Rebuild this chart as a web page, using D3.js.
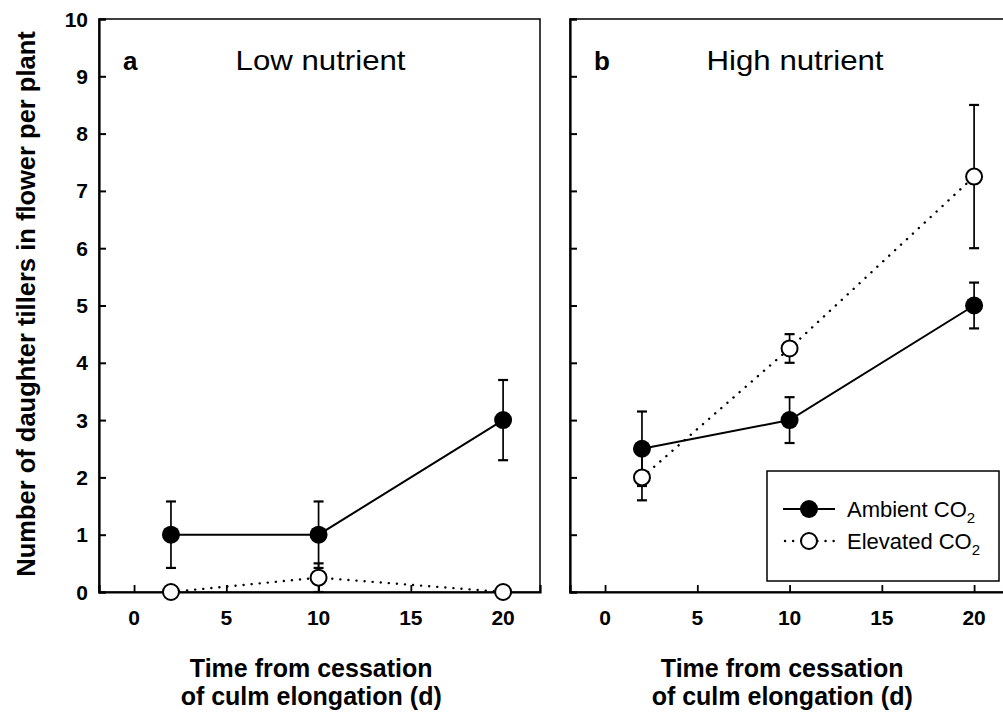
<!DOCTYPE html>
<html>
<head>
<meta charset="utf-8">
<script src="https://cdn.jsdelivr.net/npm/d3@7"></script>
<style>
  html, body { margin: 0; padding: 0; background: #fff; }
  svg { display: block; }
  text { font-family: Arial, "Liberation Sans", Helvetica, sans-serif; fill: #000; }
</style>
</head>
<body>
<svg id="chart" width="1003" height="714"></svg>
<script>
// ---- data ----
const days = [2, 10, 20];
const xTicks = [0, 5, 10, 15, 20];
const yTicks = [0, 1, 2, 3, 4, 5, 6, 7, 8, 9, 10];

const lowAmbient = [1, 1, 3];
const lowAmbientErr = [0.58, 0.58, 0.7];
const lowElevated = [0, 0.25, 0];
const lowElevatedErr = [0, 0.25, 0];

const highAmbient = [2.5, 3, 5];
const highAmbientErr = [0.65, 0.4, 0.4];
const highElevated = [2, 4.25, 7.25];
const highElevatedErr = [0.4, 0.25, 1.25];

const panelLetters = ["a", "b"];
const panelTitles = ["Low nutrient", "High nutrient"];
const yTitle = "Number of daughter tillers in flower per plant";
const xTitle = ["Time from cessation", "of culm elongation (d)"];
const seriesNames = ["Ambient CO", "Elevated CO"];

// ---- layout ----
const svg = d3.select("#chart");
const yScale = d3.scaleLinear().domain([0, 10]).range([592, 19]);
const xDomain = [-1.9, 22];
const panels = [
  { left: 99, right: 540, amb: lowAmbient, ambErr: lowAmbientErr, ele: lowElevated, eleErr: lowElevatedErr, yLabels: true, legend: false },
  { left: 570, right: 1011, amb: highAmbient, ambErr: highAmbientErr, ele: highElevated, eleErr: highElevatedErr, yLabels: false, legend: true }
];

const R = 9;
const DOTS = "0.1,8";

panels.forEach((p, i) => {
  const x = d3.scaleLinear().domain(xDomain).range([p.left, p.right]);
  const g = svg.append("g");

  // frame
  g.append("rect")
    .attr("x", p.left).attr("y", yScale(10))
    .attr("width", p.right - p.left).attr("height", yScale(0) - yScale(10))
    .attr("fill", "none").attr("stroke", "#000").attr("stroke-width", 1.5);

  // y axis (ticks inward)
  const yAxis = d3.axisRight(yScale).tickValues(yTicks).tickSize(7).tickFormat("");
  const ya = g.append("g").attr("transform", `translate(${p.left},0)`).call(yAxis);
  ya.select(".domain").attr("stroke-width", 2.2);
  ya.selectAll(".tick line").attr("stroke-width", 2);

  if (p.yLabels) {
    g.selectAll(".ylab").data(yTicks).enter().append("text")
      .attr("x", p.left - 11).attr("y", d => yScale(d) + 7.5)
      .attr("text-anchor", "end")
      .attr("font-size", 21).attr("font-weight", "bold")
      .text(d => d);
  }

  // x axis (ticks inward)
  const xAxis = d3.axisTop(x).tickValues(xTicks).tickSize(7).tickFormat("");
  const xa = g.append("g").attr("transform", `translate(0,${yScale(0)})`).call(xAxis);
  xa.select(".domain").attr("stroke-width", 2.2);
  xa.selectAll(".tick line").attr("stroke-width", 1.8);
  g.selectAll(".xlab").data(xTicks).enter().append("text")
    .attr("x", d => x(d)).attr("y", 625)
    .attr("text-anchor", "middle")
    .attr("font-size", 21).attr("font-weight", "bold")
    .text(d => d);

  // x titles
  xTitle.forEach((t, k) => {
    g.append("text")
      .attr("x", x(9.6)).attr("y", 677 + k * 28)
      .attr("text-anchor", "middle")
      .attr("font-size", 25).attr("font-weight", "bold")
      .text(t);
  });

  // panel letter + title
  g.append("text").attr("x", p.left + 24).attr("y", 70)
    .attr("font-size", 26).attr("font-weight", "bold").text(panelLetters[i]);
  g.append("text").attr("x", x(5.5)).attr("y", 70)
    .attr("font-size", 28)
    .attr("textLength", i === 0 ? 170 : 177).attr("lengthAdjust", "spacingAndGlyphs")
    .text(panelTitles[i]);

  // error bars
  const drawErr = (vals, errs) => {
    vals.forEach((v, j) => {
      const e = errs[j];
      if (!e) return;
      const cx = x(days[j]);
      g.append("line").attr("x1", cx).attr("x2", cx)
        .attr("y1", yScale(v - e)).attr("y2", yScale(v + e))
        .attr("stroke", "#000").attr("stroke-width", 1.7);
      [v - e, v + e].forEach(c => {
        g.append("line").attr("x1", cx - 5).attr("x2", cx + 5)
          .attr("y1", yScale(c)).attr("y2", yScale(c))
          .attr("stroke", "#000").attr("stroke-width", 2.2);
      });
    });
  };
  drawErr(p.amb, p.ambErr);
  drawErr(p.ele, p.eleErr);

  const line = d3.line().x((d, j) => x(days[j])).y(d => yScale(d));
  g.append("path").attr("d", line(p.ele)).attr("fill", "none")
    .attr("stroke", "#000").attr("stroke-width", 2.4)
    .attr("stroke-dasharray", DOTS).attr("stroke-linecap", "round");
  g.append("path").attr("d", line(p.amb)).attr("fill", "none")
    .attr("stroke", "#000").attr("stroke-width", 2);

  g.selectAll(".ele").data(p.ele).enter().append("circle")
    .attr("cx", (d, j) => x(days[j])).attr("cy", d => yScale(d)).attr("r", R - 1)
    .attr("fill", "#fff").attr("stroke", "#000").attr("stroke-width", 2);
  g.selectAll(".amb").data(p.amb).enter().append("circle")
    .attr("cx", (d, j) => x(days[j])).attr("cy", d => yScale(d)).attr("r", R)
    .attr("fill", "#000");

  if (p.legend) {
    const lg = g.append("g");
    lg.append("rect").attr("x", 767).attr("y", 471).attr("width", 232).attr("height", 110)
      .attr("fill", "#fff").attr("stroke", "#000").attr("stroke-width", 1.5);
    // ambient entry
    lg.append("line").attr("x1", 783).attr("x2", 835).attr("y1", 509).attr("y2", 509)
      .attr("stroke", "#000").attr("stroke-width", 2);
    lg.append("circle").attr("cx", 809).attr("cy", 509).attr("r", R).attr("fill", "#000");
    // elevated entry
    lg.append("line").attr("x1", 785).attr("x2", 835).attr("y1", 541).attr("y2", 541)
      .attr("stroke", "#000").attr("stroke-width", 2.4)
      .attr("stroke-dasharray", DOTS).attr("stroke-linecap", "round");
    lg.append("circle").attr("cx", 809).attr("cy", 541).attr("r", R - 1)
      .attr("fill", "#fff").attr("stroke", "#000").attr("stroke-width", 2);
    seriesNames.forEach((s, k) => {
      const t = lg.append("text").attr("x", 847).attr("y", 517 + k * 32).attr("font-size", 22);
      t.append("tspan").text(s);
      t.append("tspan").attr("font-size", 15).attr("dy", 6).text("2");
    });
  }
});

// y title
svg.append("text")
  .attr("transform", `translate(35,304) rotate(-90)`)
  .attr("text-anchor", "middle")
  .attr("font-size", 25.5).attr("font-weight", "bold")
  .text(yTitle);
</script>
</body>
</html>
